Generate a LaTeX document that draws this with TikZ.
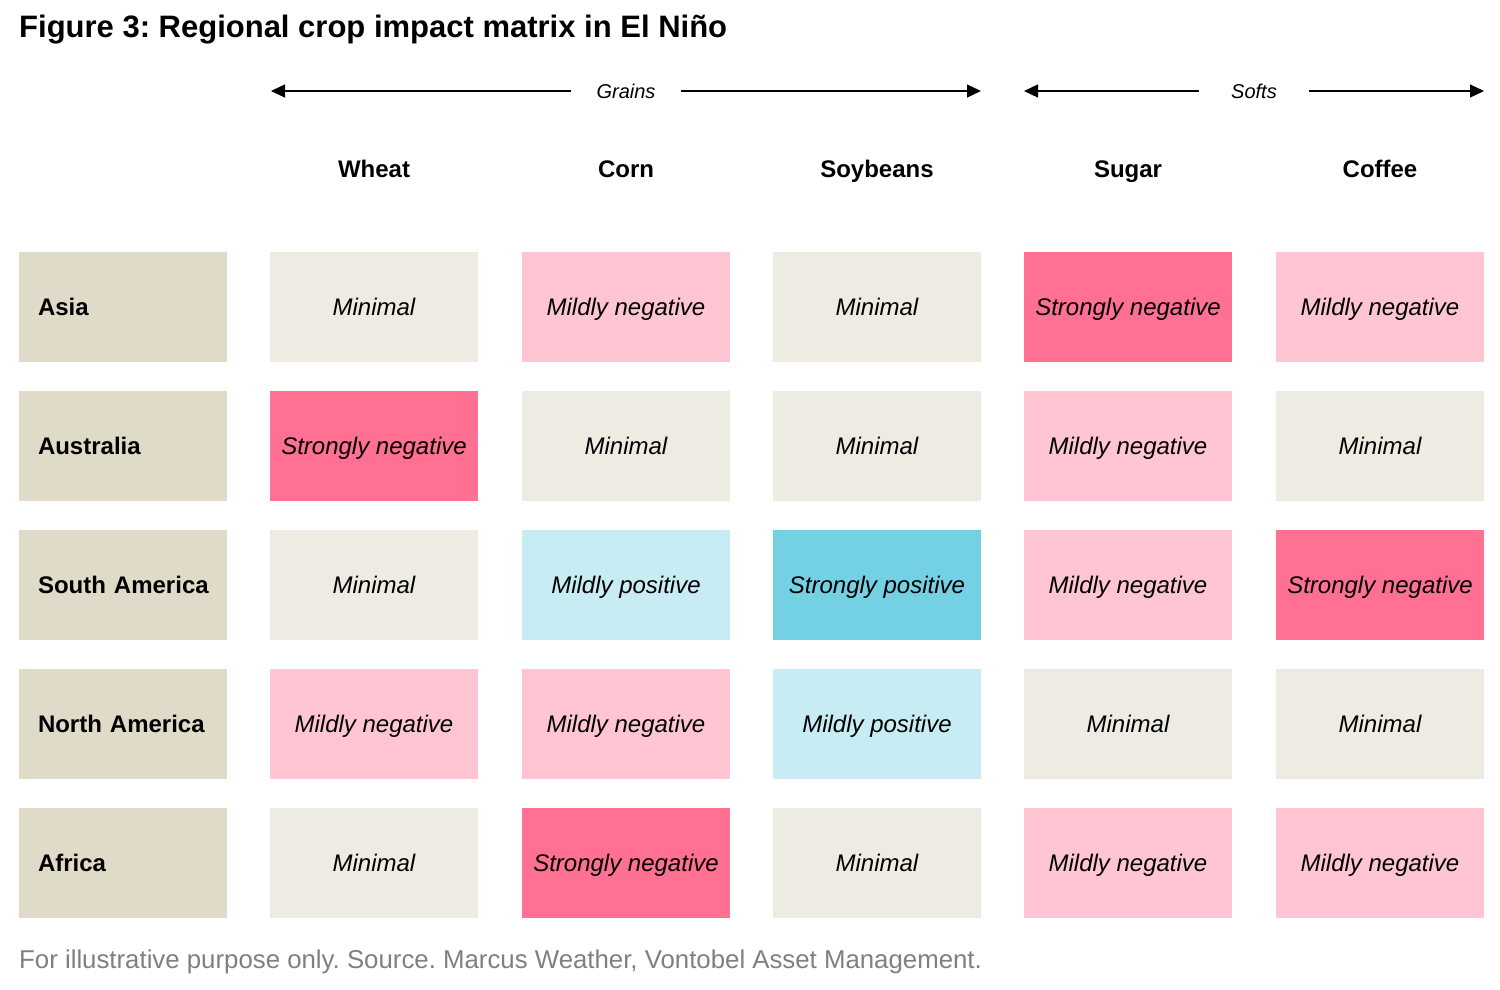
\documentclass[tikz,border=0pt]{standalone}
\usepackage{fontspec}
\setmainfont{Liberation Sans}
\usetikzlibrary{arrows.meta}
\frenchspacing
\definecolor{regioncol}{HTML}{E0DAC8}
\definecolor{minimalcol}{HTML}{EEEBE2}
\definecolor{mildnegcol}{HTML}{FFC5D3}
\definecolor{strongnegcol}{HTML}{FF7092}
\definecolor{mildposcol}{HTML}{C8ECF3}
\definecolor{strongposcol}{HTML}{74D0E3}
\definecolor{notecol}{HTML}{808080}
\tikzset{
  cell/.style={minimum width=208pt, minimum height=110pt, inner sep=0pt,
    text height=22pt, text depth=5pt,
    font=\fontsize{24}{28}\selectfont\itshape},
  region/.style={cell, fill=regioncol, inner xsep=19pt, text width=170pt,
    align=left, font={\fontsize{24}{28}\selectfont\bfseries\hyphenpenalty=10000\hbadness=10000\hfuzz=10pt}},
  minimal/.style={cell, fill=minimalcol},
  mildneg/.style={cell, fill=mildnegcol},
  strongneg/.style={cell, fill=strongnegcol},
  mildpos/.style={cell, fill=mildposcol},
  strongpos/.style={cell, fill=strongposcol},
  crop/.style={text height=22pt, text depth=5pt, inner sep=0pt,
    font=\fontsize{24}{28}\selectfont\bfseries},
  group/.style={font=\fontsize{20}{24}\selectfont\itshape, inner ysep=0pt},
  span/.style={line width=1.3pt, -{Triangle[length=14pt,width=13pt]}}
}
\begin{document}
\begin{tikzpicture}[x=1pt,y=-1pt]
\useasboundingbox[fill=white] (0,0) rectangle (1500,990);
\node[anchor=base west, inner sep=0pt, font=\fontsize{31}{36}\selectfont\bfseries] (title) at (19,38) {Figure 3: Regional crop impact matrix in El Niño};
% group arrows
\node[group, inner xsep=25pt] (grains) at (626,91) {Grains};
\coordinate (grainsL) at (271,91);
\coordinate (grainsR) at (981,91);
\draw[span] (grains.west) -- (grainsL);
\draw[span] (grains.east) -- (grainsR);
\node[group, inner xsep=32pt] (softs) at (1254,91) {Softs};
\coordinate (softsL) at (1024,91);
\coordinate (softsR) at (1484,91);
\draw[span] (softs.west) -- (softsL);
\draw[span] (softs.east) -- (softsR);
% crop headers
\node[crop] (wheat) at (374,169) {Wheat};
\node[crop] (corn) at (626,169) {Corn};
\node[crop] (soy) at (877,169) {Soybeans};
\node[crop] (sugar) at (1128,169) {Sugar};
\node[crop] (coffee) at (1380,169) {Coffee};
% Asia
\node[region] (asia) at (123,307) {Asia};
\node[minimal] (asiaW) at (374,307) {Minimal};
\node[mildneg] (asiaC) at (626,307) {Mildly negative};
\node[minimal] (asiaS) at (877,307) {Minimal};
\node[strongneg] (asiaU) at (1128,307) {Strongly negative};
\node[mildneg] (asiaF) at (1380,307) {Mildly negative};
% Australia
\node[region] (aus) at (123,446) {Australia};
\node[strongneg] (ausW) at (374,446) {Strongly negative};
\node[minimal] (ausC) at (626,446) {Minimal};
\node[minimal] (ausS) at (877,446) {Minimal};
\node[mildneg] (ausU) at (1128,446) {Mildly negative};
\node[minimal] (ausF) at (1380,446) {Minimal};
% South America
\node[region] (sam) at (123,585) {South~America};
\node[minimal] (samW) at (374,585) {Minimal};
\node[mildpos] (samC) at (626,585) {Mildly positive};
\node[strongpos] (samS) at (877,585) {Strongly positive};
\node[mildneg] (samU) at (1128,585) {Mildly negative};
\node[strongneg] (samF) at (1380,585) {Strongly negative};
% North America
\node[region] (nam) at (123,724) {North~America};
\node[mildneg] (namW) at (374,724) {Mildly negative};
\node[mildneg] (namC) at (626,724) {Mildly negative};
\node[mildpos] (namS) at (877,724) {Mildly positive};
\node[minimal] (namU) at (1128,724) {Minimal};
\node[minimal] (namF) at (1380,724) {Minimal};
% Africa
\node[region] (afr) at (123,863) {Africa};
\node[minimal] (afrW) at (374,863) {Minimal};
\node[strongneg] (afrC) at (626,863) {Strongly negative};
\node[minimal] (afrS) at (877,863) {Minimal};
\node[mildneg] (afrU) at (1128,863) {Mildly negative};
\node[mildneg] (afrF) at (1380,863) {Mildly negative};
% note
\node[anchor=base west, inner sep=0pt, text=notecol, font=\fontsize{25.8}{30}\selectfont] (note) at (19,968) {For illustrative purpose only. Source. Marcus Weather, Vontobel Asset Management.};
\end{tikzpicture}
\end{document}
